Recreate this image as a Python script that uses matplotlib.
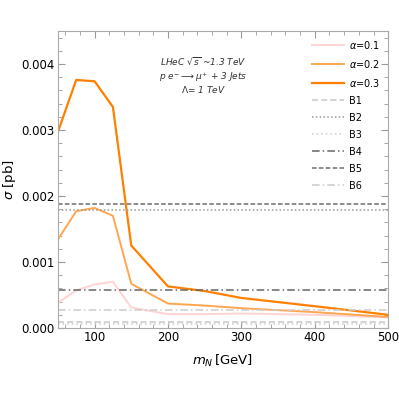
import matplotlib.pyplot as plt
from matplotlib.ticker import MultipleLocator, FormatStrFormatter
import numpy as np

# masses (GeV)
m_N = [50, 75, 100, 125, 150, 200, 250, 300, 400, 500]

# cross sections (pb) for each alpha
sig_a01 = [0.00038, 0.00057, 0.00066, 0.00070, 0.00031, 0.00021, 0.00021, 0.00022, 0.00020, 0.00016]
sig_a02 = [0.00134, 0.00177, 0.00182, 0.00170, 0.00067, 0.00037, 0.00034, 0.00030, 0.00024, 0.000167]
sig_a03 = [0.00297, 0.00376, 0.00374, 0.00335, 0.00125, 0.00063, 0.00056, 0.000455, 0.00033, 0.00020]

# background levels (pb)
bkg_names = ["B1", "B2", "B3", "B4", "B5", "B6"]
bkg_values = [0.00009, 0.00179, 0.000056, 0.00057, 0.00188, 0.00028]

fig, ax = plt.subplots(figsize=(3.99, 3.99), dpi=100)
fig.subplots_adjust(left=0.145, right=0.973, top=0.922, bottom=0.178)

ax.plot(m_N, sig_a01, color="#ffd3d3", lw=1.4, label=r"$\alpha$=0.1")
ax.plot(m_N, sig_a02, color="#ffa650", lw=1.4, label=r"$\alpha$=0.2")
ax.plot(m_N, sig_a03, color="#ff8000", lw=1.6, label=r"$\alpha$=0.3")

bkg_styles = [
    ("#c8c8c8", (0, (4, 2))),
    ("#999999", (0, (1, 1.5))),
    ("#cccccc", (0, (1, 2))),
    ("#666666", (0, (5, 2, 1, 2))),
    ("#6e6e6e", (0, (3, 1.5))),
    ("#cccccc", (0, (5, 2, 1, 2))),
]
for name, val, (col, ls) in zip(bkg_names, bkg_values, bkg_styles):
    ax.axhline(val, color=col, ls=ls, lw=1.1, label=name)

ax.set_xlim(50, 500)
ax.set_ylim(0, 0.0045)
ax.xaxis.set_major_locator(MultipleLocator(100))
ax.xaxis.set_minor_locator(MultipleLocator(20))
ax.yaxis.set_major_locator(MultipleLocator(0.001))
ax.yaxis.set_minor_locator(MultipleLocator(0.0002))
ax.yaxis.set_major_formatter(FormatStrFormatter("%.3f"))
ax.tick_params(which="both", direction="in", top=True, right=True, color="#999999",
               labelsize=8.5, pad=2.5)
ax.tick_params(which="major", length=5)
ax.tick_params(which="minor", length=3)
for s in ax.spines.values():
    s.set_color("#aaaaaa")

ax.set_xlabel(r"$m_N\,$[GeV]", fontsize=9.5, labelpad=6)
ax.set_ylabel(r"$\sigma$ [pb]", fontsize=9.5, labelpad=2)

ax.text(0.44, 0.885, r"LHeC $\sqrt{s}$ ~1.3 TeV", transform=ax.transAxes,
        ha="center", fontsize=6.5, style="italic", color="#333333")
ax.text(0.44, 0.835, r"$p\ e^{-}\longrightarrow \mu^{+}$ + 3 Jets", transform=ax.transAxes,
        ha="center", fontsize=6.5, style="italic", color="#333333")
ax.text(0.44, 0.79, r"$\Lambda$= 1 TeV", transform=ax.transAxes,
        ha="center", fontsize=6.5, style="italic", color="#333333")

ax.legend(loc="upper right", frameon=False, fontsize=7, handlelength=3.3,
          labelspacing=0.72, borderaxespad=0.4, handletextpad=0.5)

plt.savefig("out.png")
